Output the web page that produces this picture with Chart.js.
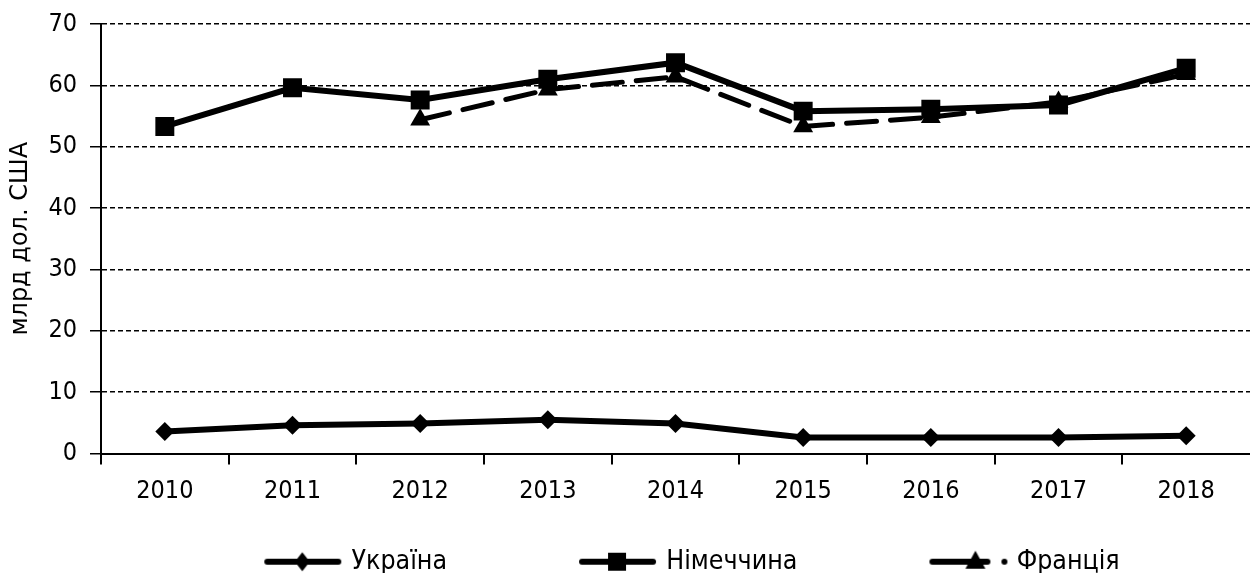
<!DOCTYPE html>
<html><head><meta charset="utf-8">
<script src="https://cdn.jsdelivr.net/npm/chart.js@4/dist/chart.umd.min.js"></script>
<style>html,body{margin:0;padding:0;background:#fff;overflow:hidden}#wrap{width:1250px;height:573px;position:relative}canvas{display:block}</style>
</head><body><div id="wrap"><canvas id="c"></canvas></div>
<script>
const years = ['2010','2011','2012','2013','2014','2015','2016','2017','2018'];
const ukraine = [3.6, 4.6, 4.9, 5.5, 4.9, 2.6, 2.6, 2.6, 2.9];
const germany = [53.3, 59.6, 57.6, 61.0, 63.7, 55.8, 56.1, 56.8, 62.8];
const france  = [null, null, 54.4, 59.3, 61.4, 53.3, 54.8, 57.3, 61.8];
const seriesNames = ['Україна', 'Німеччина', 'Франція'];
const yTitle = 'млрд дол. США';

const FONT = '"DejaVu Sans Condensed", "DejaVu Sans", sans-serif';
const BOXW = 196;

function makeIcon(kind) {
  const c = document.createElement('canvas');
  c.width = BOXW + 12; c.height = 26;
  const g = c.getContext('2d');
  const x0 = c.width - 80, cy = 13;
  g.fillStyle = '#000'; g.strokeStyle = '#000'; g.lineWidth = 6; g.lineCap = 'round';
  g.beginPath();
  if (kind === 'tri') { g.moveTo(x0 + 3, cy); g.lineTo(x0 + 58, cy); }
  else { g.moveTo(x0 + 3, cy); g.lineTo(x0 + 74, cy); }
  g.stroke();
  const mx = kind === 'tri' ? x0 + 46 : x0 + 38;
  g.beginPath();
  if (kind === 'diamond') { g.moveTo(mx, cy - 9.5); g.lineTo(mx + 7.5, cy); g.lineTo(mx, cy + 9.5); g.lineTo(mx - 7.5, cy); }
  else if (kind === 'square') { g.rect(mx - 9, cy - 9, 18, 18); }
  else { g.moveTo(mx, cy - 11); g.lineTo(mx + 10, cy + 7); g.lineTo(mx - 10, cy + 7); }
  g.closePath(); g.fill();
  if (kind === 'tri') { g.beginPath(); g.arc(x0 + 75, cy, 3, 0, Math.PI * 2); g.fill(); }
  return c;
}
const icons = [makeIcon('diamond'), makeIcon('square'), makeIcon('tri')];

new Chart(document.getElementById('c'), {
  type: 'line',
  data: {
    labels: years,
    datasets: [
      { label: seriesNames[0], data: ukraine, borderColor: '#000', backgroundColor: '#000', borderWidth: 6,
        pointStyle: 'rectRot', pointRadius: 9.5, pointBorderWidth: 0, tension: 0 },
      { label: seriesNames[1], data: germany, borderColor: '#000', backgroundColor: '#000', borderWidth: 6,
        pointStyle: 'rect', pointRadius: 13.4, pointBorderWidth: 0, tension: 0 },
      { label: seriesNames[2], data: france, borderColor: '#000', backgroundColor: '#000', borderWidth: 5,
        borderDash: [30, 14], borderCapStyle: 'round', pointStyle: 'triangle', pointRadius: 11.5, pointBorderWidth: 0, tension: 0 }
    ]
  },
  options: {
    responsive: true, maintainAspectRatio: false, animation: false,
    layout: { autoPadding: false, padding: { left: 0, right: -12, top: 24, bottom: -12 } },
    scales: {
      x: {
        offset: true,
        grid: { offset: true, drawOnChartArea: false, drawTicks: true, tickLength: 11, color: '#000', lineWidth: 2,
                tickColor: c => (c.type === 'tick' ? '#000' : 'rgba(0,0,0,0)') },
        border: { display: true, color: '#000', width: 2 },
        ticks: { color: '#000', font: { family: FONT, size: 25 }, padding: 12 },
        afterFit: s => { s.height = 85; s.paddingLeft = 0; s.paddingRight = 0; }
      },
      y: {
        min: 0, max: 70,
        grid: { color: '#000', lineWidth: 1.5, tickLength: 11, drawTicks: true },
        border: { display: true, color: '#000', width: 2, dash: [5, 3] },
        ticks: { stepSize: 10, color: '#000', font: { family: FONT, size: 25 }, padding: 13 },
        title: { display: true, text: yTitle, color: '#000', font: { family: '"DejaVu Sans", sans-serif', size: 24 }, padding: { top: 6, bottom: 4 } },
        afterFit: s => { s.width = 101; s.paddingTop = 0; s.paddingBottom = 0; }
      }
    },
    plugins: {
      tooltip: { enabled: false },
      legend: {
        position: 'bottom',
        labels: {
          color: '#000', font: { family: FONT, size: 26.5 }, padding: 10,
          usePointStyle: true, pointStyleWidth: BOXW,
          generateLabels: chart => chart.data.datasets.map((d, i) => ({
            text: d.label, pointStyle: icons[i], fillStyle: '#000', strokeStyle: '#000', lineWidth: 0,
            hidden: false, datasetIndex: i, fontColor: '#000'
          }))
        }
      }
    }
  }
});
</script></body></html>
